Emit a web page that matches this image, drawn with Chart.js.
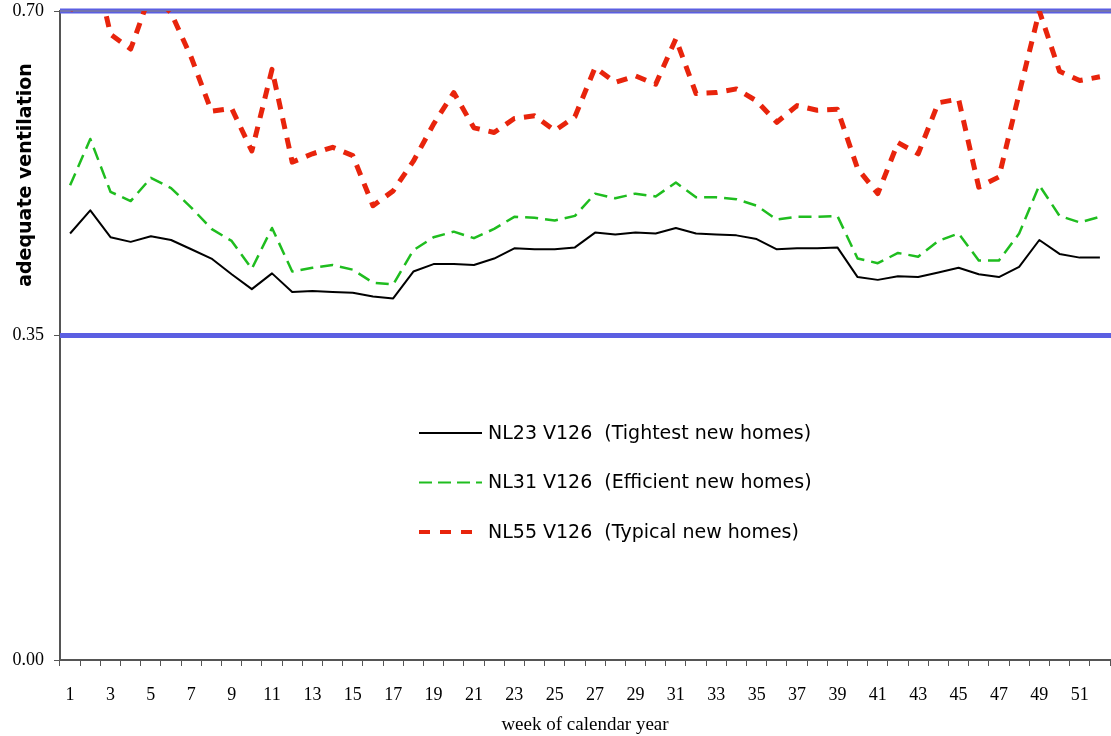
<!DOCTYPE html>
<html>
<head>
<meta charset="utf-8">
<script src="https://cdn.jsdelivr.net/npm/chart.js@4.4.1/dist/chart.umd.min.js"></script>
<style>
  html, body { margin: 0; background: #fff; }
  canvas { display: block; }
</style>
</head>
<body>
<canvas id="chart" width="1111" height="736"></canvas>
<script>
/* ── data ── */
const WEEKS = ['1','2','3','4','5','6','7','8','9','10','11','12','13','14','15','16','17','18','19','20',
  '21','22','23','24','25','26','27','28','29','30','31','32','33','34','35','36','37','38','39','40',
  '41','42','43','44','45','46','47','48','49','50','51','52'];
const WEEK_LABELS = ['1','3','5','7','9','11','13','15','17','19','21','23','25','27','29','31','33','35',
  '37','39','41','43','45','47','49','51'];
const Y_TICKS = [0, 0.35, 0.70];
const LIMITS = [0.35, 0.70];

const NL23 = [0.460,0.485,0.456,0.451,0.457,0.453,0.443,0.433,0.416,0.400,
  0.417,0.397,0.398,0.397,0.396,0.392,0.390,0.419,0.427,0.427,
  0.426,0.433,0.444,0.443,0.443,0.445,0.461,0.459,0.461,0.460,
  0.466,0.460,0.459,0.458,0.454,0.443,0.444,0.444,0.445,0.413,
  0.410,0.414,0.413,0.418,0.423,0.416,0.413,0.424,0.453,0.438,
  0.434,0.434];
const NL31 = [0.512,0.562,0.505,0.495,0.520,0.509,0.488,0.465,0.452,0.422,
  0.466,0.419,0.423,0.426,0.421,0.407,0.405,0.442,0.456,0.462,
  0.455,0.465,0.478,0.477,0.474,0.479,0.503,0.498,0.503,0.500,
  0.515,0.499,0.499,0.497,0.490,0.475,0.478,0.478,0.479,0.433,
  0.428,0.439,0.435,0.452,0.460,0.431,0.431,0.460,0.512,0.479,
  0.472,0.478];
const NL55 = [0.700,0.770,0.675,0.659,0.720,0.698,0.650,0.592,0.595,0.549,
  0.637,0.537,0.546,0.553,0.544,0.490,0.506,0.538,0.578,0.612,
  0.574,0.569,0.584,0.587,0.571,0.586,0.639,0.623,0.630,0.621,
  0.670,0.611,0.612,0.616,0.603,0.580,0.598,0.593,0.594,0.530,
  0.503,0.558,0.546,0.601,0.605,0.510,0.521,0.611,0.700,0.635,
  0.625,0.629];

const SERIF = '"Liberation Serif", "Times New Roman", serif';
const SANS = '"DejaVu Sans", Verdana, sans-serif';
const AXIS_GREY = '#555';
const BLUE = '#5b5fe2';

/* blue limit lines, under the data */
const limitLines = {
  id: 'limitLines',
  beforeDatasetsDraw(chart) {
    const { ctx, chartArea: a, scales: { y } } = chart;
    ctx.save();
    LIMITS.forEach(v => {
      const py = y.getPixelForValue(v);
      ctx.strokeStyle = BLUE;
      ctx.lineWidth = 5;
      ctx.beginPath(); ctx.moveTo(a.left, py); ctx.lineTo(chart.width, py); ctx.stroke();
      if (py <= a.top + 1) {
        // plot border shows through the top limit line
        ctx.strokeStyle = '#7b7b9e';
        ctx.lineWidth = 1.5;
        ctx.beginPath(); ctx.moveTo(a.left, py); ctx.lineTo(chart.width, py); ctx.stroke();
      }
    });
    ctx.restore();
  }
};

/* y title sits high on the axis, not centred */
const yTitle = {
  id: 'yTitle',
  afterDraw(chart) {
    const { ctx } = chart;
    ctx.save();
    ctx.translate(31, 175);
    ctx.rotate(-Math.PI / 2);
    ctx.font = 'bold 19px ' + SANS;
    ctx.fillStyle = '#000';
    ctx.textAlign = 'center';
    ctx.textBaseline = 'alphabetic';
    ctx.fillText('adequate ventilation', 0, 0);
    ctx.restore();
  }
};

/* legend floats inside the plot */
const innerLegend = {
  id: 'innerLegend',
  afterDraw(chart) {
    const { ctx } = chart;
    ctx.save();
    ctx.font = '19px ' + SANS;
    ctx.textBaseline = 'middle';
    ctx.fillStyle = '#000';
    chart.data.datasets.forEach((ds, i) => {
      const yy = 433 + i * 49.5;
      ctx.strokeStyle = ds.borderColor;
      ctx.lineWidth = ds.legendWidth;
      ctx.setLineDash(ds.legendDash);
      ctx.lineCap = 'butt';
      ctx.beginPath(); ctx.moveTo(419, yy); ctx.lineTo(482, yy); ctx.stroke();
      ctx.fillText(ds.label, 488, yy + 1);
    });
    ctx.restore();
  }
};

const line = (label, data, color, width, dash, legendWidth, legendDash) => ({
  label, data, borderColor: color, borderWidth: width, borderDash: dash,
  legendWidth, legendDash, borderCapStyle: 'butt', borderJoinStyle: 'round',
  pointRadius: 0, tension: 0, fill: false, clip: 0
});

// keep tick labels from pushing the plot area around
const noPad = s => { s.paddingTop = 0; s.paddingBottom = 0; s.paddingLeft = 0; s.paddingRight = 0; };

new Chart(document.getElementById('chart'), {
  type: 'line',
  data: {
    labels: WEEKS,
    datasets: [
      line('NL23 V126  (Tightest new homes)', NL23, '#000000', 2, [], 2, []),
      line('NL31 V126  (Efficient new homes)', NL31, '#1fbd1f', 2.5, [13, 7], 2, [13, 6]),
      line('NL55 V126  (Typical new homes)', NL55, '#e8240c', 5, [11, 9], 4, [11, 10])
    ]
  },
  options: {
    responsive: false,
    animation: false,
    events: [],
    layout: { padding: { top: 11, right: 1, left: 0, bottom: 0 } },
    plugins: { legend: { display: false }, tooltip: { enabled: false } },
    scales: {
      x: {
        type: 'category',
        offset: true,
        afterFit: s => { s.height = 76; noPad(s); },
        grid: { offset: true, drawOnChartArea: false, drawTicks: true, tickLength: 6, color: AXIS_GREY, lineWidth: 1 },
        border: { display: true, color: AXIS_GREY, width: 2 },
        ticks: {
          autoSkip: false, maxRotation: 0, minRotation: 0, padding: 18,
          color: '#000', font: { family: SERIF, size: 18 },
          callback: (v, i) => WEEK_LABELS.includes(WEEKS[i]) ? WEEKS[i] : ''
        },
        title: { display: true, text: 'week of calendar year', color: '#000',
          font: { family: SERIF, size: 19 }, padding: { top: 0, bottom: 0 } }
      },
      y: {
        min: 0, max: 0.70,
        afterFit: s => { s.width = 60; noPad(s); },
        afterBuildTicks: s => { s.ticks = Y_TICKS.map(v => ({ value: v })); },
        grid: { drawOnChartArea: false, drawTicks: true, tickLength: 6, color: AXIS_GREY, lineWidth: 1 },
        border: { display: true, color: AXIS_GREY, width: 2 },
        ticks: { padding: 10, color: '#000', font: { family: SERIF, size: 18 }, callback: v => v.toFixed(2) }
      }
    }
  },
  plugins: [limitLines, yTitle, innerLegend]
});
</script>
</body>
</html>
